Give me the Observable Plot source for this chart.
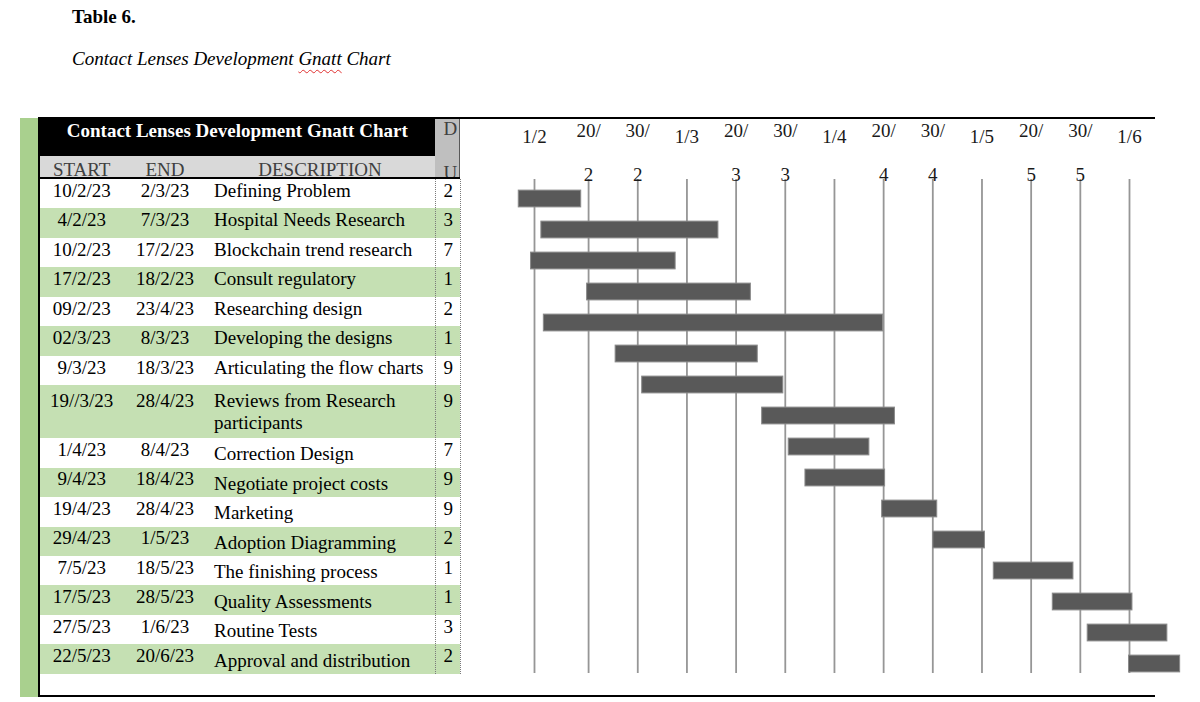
<!DOCTYPE html>
<html><head><meta charset="utf-8">
<script src="https://cdn.jsdelivr.net/npm/d3@7"></script>
<script src="https://cdn.jsdelivr.net/npm/@observablehq/plot@0.6"></script>
<style>
html,body{margin:0;padding:0;background:#fff;}
#page{position:relative;width:1200px;height:702px;overflow:hidden;font-family:"Liberation Serif","Times New Roman",serif;color:#000;}
.abs{position:absolute;}
.t1{position:absolute;left:72px;top:7.4px;font-size:19px;line-height:19px;font-weight:bold;white-space:nowrap;}
.t2{position:absolute;left:72px;top:49.2px;font-size:19px;line-height:19px;font-style:italic;white-space:nowrap;}
.sq{text-decoration:underline wavy #e03030;text-decoration-thickness:1px;text-underline-offset:4px;}
.cell{position:absolute;font-size:19px;line-height:21.6px;white-space:nowrap;}
#chart{position:absolute;left:460px;top:119px;}
</style></head>
<body>
<div id="page">
  <div class="t1">Table 6.</div>
  <div class="t2">Contact Lenses Development <span class="sq">Gnatt</span> Chart</div>
</div>
<script>
// ---------- data ----------
const starts = ["10/2/23","4/2/23","10/2/23","17/2/23","09/2/23","02/3/23","9/3/23","19//3/23","1/4/23","9/4/23","19/4/23","29/4/23","7/5/23","17/5/23","27/5/23","22/5/23"];
const ends = ["2/3/23","7/3/23","17/2/23","18/2/23","23/4/23","8/3/23","18/3/23","28/4/23","8/4/23","18/4/23","28/4/23","1/5/23","18/5/23","28/5/23","1/6/23","20/6/23"];
const descriptions = ["Defining Problem","Hospital Needs Research","Blockchain trend research","Consult regulatory","Researching design","Developing the designs","Articulating the flow charts","Reviews from Research participants","Correction Design","Negotiate project costs","Marketing","Adoption Diagramming","The finishing process","Quality Assessments","Routine Tests","Approval and distribution"];
const durations = ["2","3","7","1","2","1","9","9","7","9","9","2","1","1","3","2"];
// bar extents, in chart axis units (gridline 1/2 = 0, 1/6 = 121)
const barStart = [-3.2, 1.4, -0.7, 10.7, 1.9, 16.5, 21.9, 46.3, 51.7, 55.1, 70.7, 81.1, 93.4, 105.4, 112.5, 120.9];
const barEnd = [9.5, 37.4, 28.7, 44.0, 70.9, 45.4, 50.6, 73.3, 68.1, 71.3, 81.9, 91.6, 109.6, 121.6, 128.7, 131.3];
const tickPos = [0, 11, 21, 31, 41, 51, 61, 71, 81, 91, 101, 111, 121];
const tickLine1 = ["1/2","20/","30/","1/3","20/","30/","1/4","20/","30/","1/5","20/","30/","1/6"];
const tickLine2 = ["","2","2","","3","3","","4","4","","5","5",""];
const tableTitle = "Contact Lenses Development Gnatt Chart";
const colHeads = ["START","END","DESCRIPTION"];
const durHead = ["D","U"];

// ---------- table (HTML) ----------
const page = document.getElementById("page");
const ASC = 17.2; // baseline offset inside a 21.6px line box at 19px
function box(left, top, width, height, css) {
  const d = document.createElement("div");
  d.className = "abs";
  Object.assign(d.style, {left: left + "px", top: top + "px", width: width + "px", height: height + "px"}, css || {});
  page.appendChild(d);
  return d;
}
function cell(text, left, baseline, width, align, css) {
  const d = document.createElement("div");
  d.className = "cell";
  d.textContent = text;
  Object.assign(d.style, {left: left + "px", top: (baseline - ASC) + "px"}, css || {});
  if (width != null) { d.style.width = width + "px"; d.style.textAlign = align; }
  page.appendChild(d);
  return d;
}

// left green strip + black rule
box(20, 117.5, 18, 579, {background: "#a9d08e"});
box(38, 117, 2, 580, {background: "#000"});
// header
box(40, 117.5, 394.5, 38.5, {background: "#000"});
cell(tableTitle, 40, 136.7, 394.5, "center", {color: "#fff", fontWeight: "bold"});
box(40, 156, 394.5, 22, {background: "#d9d9d9"});
cell(colHeads[0], 40, 175.7, 83.4, "center", {color: "#404040"});
cell(colHeads[1], 124, 175.7, 82, "center", {color: "#404040"});
cell(colHeads[2], 206, 175.7, 228, "center", {color: "#404040"});
const dh = box(434.5, 117.5, 25.5, 60.5, {background: "#bfbfbf", overflow: "hidden", borderRight: "1.5px solid #595959", boxSizing: "border-box"});
[durHead[0], durHead[1]].forEach((t, k) => {
  const s = document.createElement("div");
  s.className = "cell";
  s.textContent = t;
  s.style.left = "9px";
  s.style.color = "#404040";
  s.style.top = (k === 0 ? 135.7 : 179.3) - ASC - 117.5 + "px";
  dh.appendChild(s);
});
box(40, 177.3, 420, 1.8, {background: "#000"});

// rows
let y = 179;
descriptions.forEach((desc, i) => {
  const probe = document.createElement("div");
  probe.className = "cell";
  Object.assign(probe.style, {whiteSpace: "normal", width: "218px", visibility: "hidden", left: "0px", top: "0px"});
  probe.textContent = desc;
  page.appendChild(probe);
  const lines = Math.round(probe.offsetHeight / 21.6);
  page.removeChild(probe);
  const h = lines > 1 ? 53 : 29.45;
  box(40, y, 420, h, {background: i % 2 === 1 ? "#c5e0b3" : "#fff"});
  const base = y + (lines > 1 ? 22.4 : 18);
  const descBase = base + (i >= 8 ? 4.5 : 0);
  cell(starts[i], 40, base, 83.4, "center");
  cell(ends[i], 124, base, 82, "center");
  cell(desc, 214, descBase, 218, "left", {whiteSpace: "normal"});
  cell(durations[i], 443.5, base, null);
  y += h;
});
// dotted column separators
box(434.5, 179, 0, y - 179, {borderLeft: "1px dotted #7a7a7a"});
box(459.5, 179, 0, y - 179, {borderLeft: "1px dotted #7a7a7a"});

// ---------- Gantt (Plot) ----------
const tasks = descriptions.map((d, i) => ({name: d, s: barStart[i], e: barEnd[i]}));
const ticks = tickPos.map((p, i) => ({pos: p, l1: tickLine1[i], l2: tickLine2[i]}));

const chart = Plot.plot({
  width: 740,
  height: 576,
  marginLeft: 74,
  marginRight: 71,
  marginTop: 62.1,
  marginBottom: 14.4,
  style: {fontFamily: "'Liberation Serif','Times New Roman',serif", fontSize: "19px", background: "transparent", overflow: "visible", color: "#1a1a1a"},
  x: {domain: [0, 121], axis: null},
  y: {domain: descriptions, padding: 0, axis: null},
  marks: [
    Plot.ruleX(tickPos, {stroke: "#969696", strokeWidth: 1.8, insetTop: -2, insetBottom: 7.6}),
    Plot.barX(tasks, {x1: "s", x2: "e", y: "name", fill: "#595959", stroke: "#8a8a8a", strokeWidth: 1, insetTop: 7.1, insetBottom: 7.1}),
    Plot.text(ticks.filter(d => !d.l2), {x: "pos", text: "l1", frameAnchor: "top", lineAnchor: "bottom", dy: -38.8, fill: "#1a1a1a"}),
    Plot.text(ticks.filter(d => d.l2), {x: "pos", text: "l1", frameAnchor: "top", lineAnchor: "bottom", dy: -45.1, fill: "#1a1a1a"}),
    Plot.text(ticks.filter(d => d.l2), {x: "pos", text: "l2", frameAnchor: "top", lineAnchor: "bottom", dy: -0.6, fill: "#1a1a1a", ariaLabel: "tick-line2"})
  ]
});
chart.id = "chart";
page.appendChild(chart);
// wrapped second-line labels are cut off just above the gridlines, as in the source
const svg = d3.select(chart);
svg.append("defs").append("clipPath").attr("id", "clip-l2")
  .append("rect").attr("x", 0).attr("y", 0).attr("width", 740).attr("height", 58.5);
svg.selectAll('g[aria-label="tick-line2"]').attr("clip-path", "url(#clip-l2)");

// outer top / bottom rules
box(38, 117, 1117, 2, {background: "#000"});
box(38, 695, 1117, 2, {background: "#000"});
</script>
</body></html>
